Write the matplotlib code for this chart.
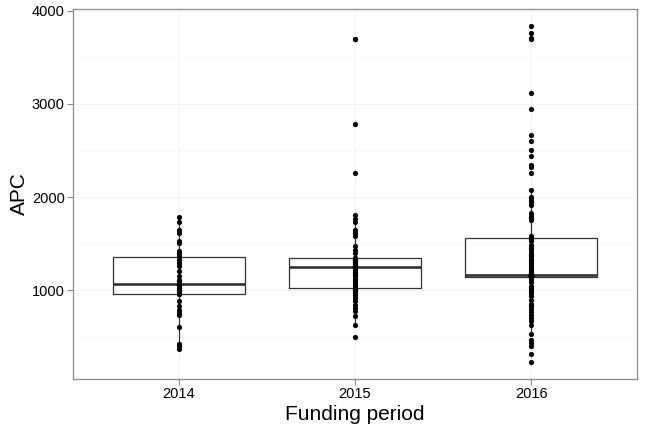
import matplotlib
matplotlib.use("Agg")
import matplotlib.pyplot as plt
import numpy as np

# kategorie (funding period)
periods = ["2014", "2015", "2016"]

# APC hodnoty
apc_2014 = [372, 400, 426, 604, 740, 758, 793, 829, 882, 958, 962, 975, 989,
            1000, 1026, 1040, 1061, 1069, 1069, 1080, 1096, 1115, 1150, 1204,
            1257, 1293, 1329, 1360, 1370, 1400, 1425, 1508, 1532, 1615, 1650,
            1733, 1782]

apc_2015 = [500, 629, 722, 775, 811, 847, 882, 919, 954, 975, 990, 1000, 1007,
            1021, 1030, 1043, 1060, 1079, 1100, 1120, 1150, 1170, 1186, 1200,
            1222, 1235, 1247, 1250, 1257, 1265, 1275, 1285, 1293, 1300, 1310,
            1320, 1329, 1338, 1345, 1352, 1400, 1436, 1471, 1579, 1615, 1650,
            1729, 1765, 1811, 2261, 2789, 3700, 3700]

apc_2016 = [229, 322, 400, 436, 464, 536, 632, 668, 704, 740, 770, 800, 830,
            857, 900, 936, 972, 990, 1007, 1030, 1050, 1086, 1122, 1140, 1147,
            1150, 1150, 1150, 1150, 1150, 1150, 1150, 1150, 1150, 1150, 1155,
            1155, 1155, 1155, 1155, 1160, 1160, 1160, 1160, 1160, 1165, 1165,
            1165, 1168, 1170, 1175, 1180, 1185, 1193, 1200, 1210, 1222, 1235,
            1251, 1270, 1290, 1311, 1325, 1340, 1364, 1380, 1393, 1418, 1450,
            1490, 1532, 1550, 1561, 1586, 1750, 1776, 1800, 1829, 1920, 1943,
            1964, 1990, 2007, 2079, 2261, 2329, 2350, 2443, 2507, 2604, 2668,
            2950, 3118, 3700, 3707, 3761, 3839]

data = [apc_2014, apc_2015, apc_2016]

plt.rcParams["font.family"] = ["Liberation Sans", "DejaVu Sans"]

fig = plt.figure(figsize=(6.48, 4.32), dpi=100)
ax = fig.add_axes([73 / 648, 1 - 379 / 432, (637 - 73) / 648, (379 - 9) / 432])

pos = np.arange(1, len(periods) + 1)

box_col = "#333333"
ax.boxplot(data, positions=pos, widths=0.75, showfliers=False, whis=1.5,
           patch_artist=False,
           boxprops=dict(color=box_col, linewidth=0.9),
           whiskerprops=dict(color=box_col, linewidth=0.9),
           capprops=dict(linewidth=0),
           medianprops=dict(color=box_col, linewidth=1.9),
           zorder=2)

for i, vals in enumerate(data):
    ax.scatter(np.full(len(vals), pos[i]), vals, s=14, color="black",
               linewidths=0, zorder=3)

# osy a mřížka ve stylu theme_bw
allv = np.concatenate([np.array(v) for v in data])
lo, hi = allv.min(), allv.max()
pad = 0.05 * (hi - lo)
ax.set_ylim(lo - pad, hi + pad)
ax.set_xlim(0.4, 3.6)

ax.set_xticks(pos)
ax.set_xticklabels(periods)
ax.set_yticks([1000, 2000, 3000, 4000])
ax.set_yticks([500, 1500, 2500, 3500], minor=True)

ax.grid(True, which="major", color="#f1f1f1", linewidth=0.6, zorder=0)
ax.grid(True, which="minor", axis="y", color="#f8f8f8", linewidth=0.6, zorder=0)
ax.set_axisbelow(True)

for s in ax.spines.values():
    s.set_color("#8c8c8c")
    s.set_linewidth(0.9)

ax.tick_params(axis="both", which="major", length=4, width=0.8, color="#8c8c8c",
               labelsize=10.5, labelcolor="black", pad=2)
ax.tick_params(axis="y", which="minor", length=0)

ax.set_xlabel("Funding period", fontsize=15, labelpad=3)
ax.set_ylabel("APC", fontsize=15, labelpad=2)

fig.savefig("out.png", dpi=100)
